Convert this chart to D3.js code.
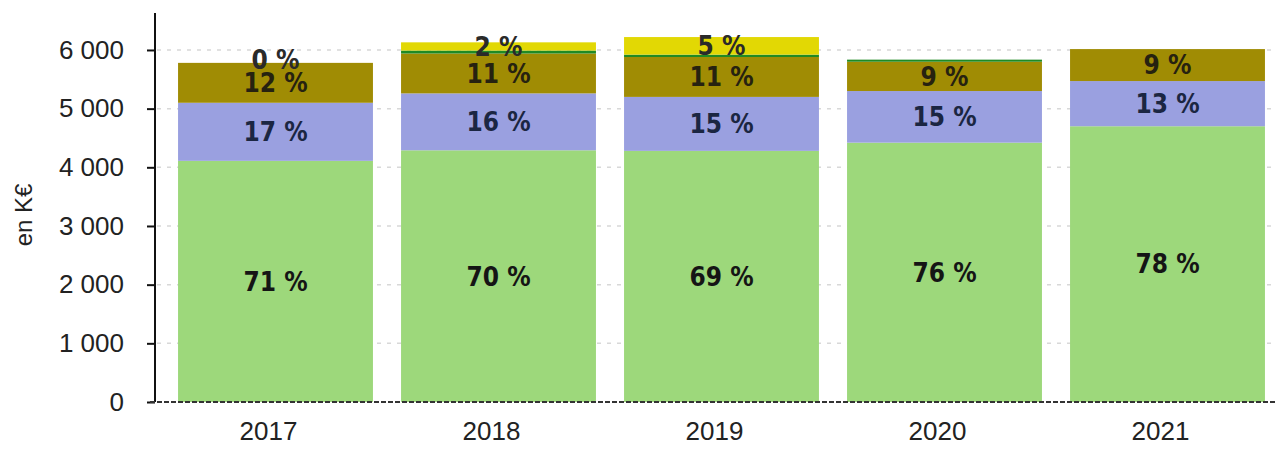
<!DOCTYPE html>
<html>
<head>
<meta charset="utf-8">
<script src="https://cdn.jsdelivr.net/npm/d3@7"></script>
<style>
  html, body { margin: 0; padding: 0; background: #fff; }
  svg { display: block; }
</style>
</head>
<body>
<svg id="chart" width="1278" height="452"></svg>
<script>
// ---- data ----
const years = ["2017", "2018", "2019", "2020", "2021"];
const seriesKeys = ["s1", "s2", "s3", "s4", "s5"];
const s1Values = [4110, 4290, 4280, 4420, 4700];   // green
const s2Values = [990, 970, 920, 880, 770];        // lavender
const s3Values = [680, 680, 680, 500, 545];        // olive
const s4Values = [0, 50, 40, 35, 0];               // dark green
const s5Values = [0, 140, 300, 0, 0];              // yellow
const s1Labels = ["71 %", "70 %", "69 %", "76 %", "78 %"];
const s2Labels = ["17 %", "16 %", "15 %", "15 %", "13 %"];
const s3Labels = ["12 %", "11 %", "11 %", "9 %", "9 %"];
const s4Labels = ["0 %", "", "", "", ""];
const s5Labels = ["", "2 %", "5 %", "", ""];
const yTicks = [0, 1000, 2000, 3000, 4000, 5000, 6000];
const yTickLabels = ["0", "1 000", "2 000", "3 000", "4 000", "5 000", "6 000"];
const yTitle = "en K€";

// ---- styles ----
const colors = { s1: "#9dd87b", s2: "#9aa0e0", s3: "#a08c04", s4: "#1f8a24", s5: "#e2d804" };
const labelColors = { s1: "#151515", s2: "#1b2642", s3: "#262210", s4: "#2a2a2a", s5: "#2a2a2a" };

const table = years.map((y, i) => ({
  year: y,
  s1: s1Values[i], s2: s2Values[i], s3: s3Values[i], s4: s4Values[i], s5: s5Values[i],
  l_s1: s1Labels[i], l_s2: s2Labels[i], l_s3: s3Labels[i], l_s4: s4Labels[i], l_s5: s5Labels[i]
}));

const svg = d3.select("#chart");
const x = d3.scaleBand().domain(years).range([164, 1279]).paddingInner(0.126).paddingOuter(0.063);
const y = d3.scaleLinear().domain([0, 6630]).range([402, 13]);

// gridlines
svg.append("g").selectAll("line").data(yTicks.filter(d => d > 0)).join("line")
  .attr("x1", 157).attr("x2", 1275)
  .attr("y1", d => y(d)).attr("y2", d => y(d))
  .attr("stroke", "#d8d8d8").attr("stroke-width", 1.5).attr("stroke-dasharray", "4,6");

const stacked = d3.stack().keys(seriesKeys)(table);

const layers = svg.append("g").selectAll("g").data(stacked).join("g")
  .attr("fill", d => colors[d.key]);
layers.selectAll("rect").data(d => d.map(p => ({ p, key: d.key }))).join("rect")
  .attr("x", d => x(d.p.data.year))
  .attr("width", x.bandwidth())
  .attr("y", d => y(d.p[1]))
  .attr("height", d => Math.max(0, y(d.p[0]) - y(d.p[1])));

// labels
const labelG = svg.append("g")
  .attr("font-family", "'DejaVu Sans Condensed', 'DejaVu Sans', sans-serif")
  .style("font-stretch", "condensed")
  .attr("font-weight", "bold").attr("font-size", 26).attr("text-anchor", "middle");
stacked.forEach(layer => {
  layer.forEach(p => {
    const txt = p.data["l_" + layer.key];
    if (!txt) return;
    labelG.append("text")
      .attr("x", x(p.data.year) + x.bandwidth() / 2)
      .attr("y", (y(p[0]) + y(p[1])) / 2 - (layer.key === "s4" ? 3 : 0))
      .attr("dy", "0.36em")
      .attr("fill", labelColors[layer.key])
      .text(txt);
  });
});

// y axis
const yAxis = svg.append("g").attr("transform", "translate(155,0)")
  .call(d3.axisLeft(y).tickValues(yTicks).tickFormat((d, i) => yTickLabels[i]).tickSize(8).tickPadding(23));
yAxis.select(".domain").attr("stroke", "#111").attr("stroke-width", 2).attr("d", "M0," + y.range()[1] + "V" + y(0));
yAxis.selectAll(".tick line").attr("stroke", "#111").attr("stroke-width", 2);
yAxis.selectAll("text").attr("font-family", "'Liberation Sans', Arial, sans-serif").attr("font-size", 26).attr("fill", "#222");

// x axis
const xAxis = svg.append("g").attr("transform", "translate(0,402)")
  .call(d3.axisBottom(x).tickSize(0).tickPadding(20));
xAxis.select(".domain").attr("stroke", "#333").attr("stroke-width", 2).attr("stroke-dasharray", "5,2")
  .attr("d", "M150,0H1275");
xAxis.selectAll("text").attr("font-family", "'Liberation Sans', Arial, sans-serif").attr("font-size", 26)
  .attr("fill", "#222").attr("dx", -7);

// y title
svg.append("text").attr("transform", "translate(32,215) rotate(-90)")
  .attr("text-anchor", "middle").attr("font-family", "'Liberation Sans', Arial, sans-serif")
  .attr("font-size", 24).attr("fill", "#222").text(yTitle);
</script>
</body>
</html>
